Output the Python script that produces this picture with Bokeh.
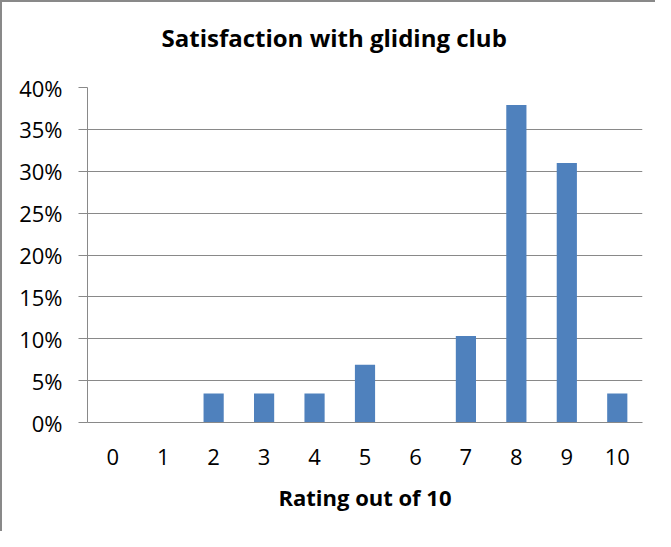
from bokeh.plotting import figure
from bokeh.models import FixedTicker, NumeralTickFormatter, Range1d, ColumnDataSource, Title
from bokeh.embed import file_html
from bokeh.resources import INLINE

ratings = ["0", "1", "2", "3", "4", "5", "6", "7", "8", "9", "10"]
shares = [0.0, 0.0, 0.0345, 0.0345, 0.0345, 0.069, 0.0, 0.1034, 0.379, 0.310, 0.0345]
y_ticks = [0.0, 0.05, 0.10, 0.15, 0.20, 0.25, 0.30, 0.35, 0.40]

title_text = "Satisfaction with gliding club"
x_label = "Rating out of 10"

FONT = "Open Sans"
GRAY = "#898989"

p = figure(x_range=ratings, y_range=Range1d(0, 0.40), width=655, height=531,
           output_backend="svg", toolbar_location=None,
           min_border_left=85, min_border_top=85, min_border_right=15, min_border_bottom=111)

p.title = None
# spacer panel between frame and title (closest to the frame)
spacer = Title(text=" ", text_font_size="1px", standoff=31)
p.add_layout(spacer, "above")
t = Title(text=title_text, align="left", offset=74, standoff=0,
          text_font=FONT, text_font_size="24px", text_font_style="bold", text_color="black")
p.add_layout(t, "above")

src = ColumnDataSource(dict(x=ratings, top=shares))
p.vbar(x="x", top="top", width=0.4, source=src, fill_color="#4F81BD", line_color=None)

p.outline_line_color = None
p.background_fill_color = "white"
p.border_fill_color = "white"
p.styles = {"border-left": "2px solid " + GRAY, "border-top": "2px solid " + GRAY}

p.xgrid.grid_line_color = None
p.ygrid.grid_line_color = GRAY
p.ygrid.grid_line_width = 1
p.ygrid.ticker = FixedTicker(ticks=y_ticks)

p.yaxis.ticker = FixedTicker(ticks=y_ticks)
p.yaxis.formatter = NumeralTickFormatter(format="0%")
p.yaxis.axis_line_color = GRAY
p.yaxis.major_tick_line_color = GRAY
p.yaxis.major_tick_out = 9
p.yaxis.major_tick_in = 0
p.yaxis.minor_tick_line_color = None
p.yaxis.major_label_text_font = FONT
p.yaxis.major_label_text_font_size = "22px"
p.yaxis.major_label_text_color = "black"
p.yaxis.major_label_standoff = 16

p.xaxis.axis_line_color = GRAY
p.xaxis.major_tick_line_color = None
p.xaxis.major_tick_out = 0
p.xaxis.major_tick_in = 0
p.xaxis.major_label_text_font = FONT
p.xaxis.major_label_text_font_size = "22px"
p.xaxis.major_label_text_color = "black"
p.xaxis.major_label_standoff = 26
p.xaxis.axis_label = x_label
p.xaxis.axis_label_text_font = FONT
p.xaxis.axis_label_text_font_size = "22px"
p.xaxis.axis_label_text_font_style = "bold"
p.xaxis.axis_label_text_color = "black"
p.xaxis.axis_label_standoff = 14

p.x_range.range_padding = 0

open("out.html", "w").write(file_html(p, INLINE))
